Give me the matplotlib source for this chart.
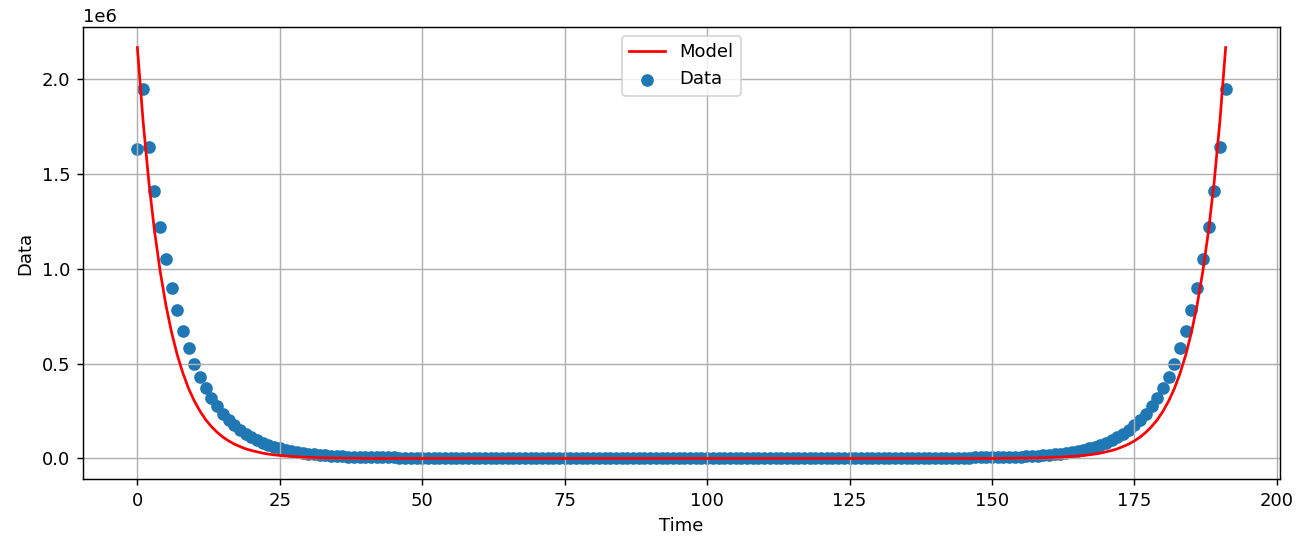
import numpy as np
import matplotlib.pyplot as plt

time = np.arange(192)

# observed values (units of 1e6), left edge x=0..45
data_left = [1.63, 1.95, 1.64, 1.41, 1.22, 1.05, 0.90, 0.78, 0.67, 0.58,
             0.50, 0.43, 0.37, 0.32, 0.275, 0.237, 0.204, 0.176, 0.152, 0.131,
             0.113, 0.097, 0.084, 0.072, 0.062, 0.054, 0.046, 0.040, 0.034, 0.030,
             0.026, 0.022, 0.019, 0.016, 0.014, 0.012, 0.011, 0.010, 0.009, 0.009,
             0.008, 0.008, 0.007, 0.007, 0.006, 0.006]
# flat stretch x=46..146
data_mid = [0.0] * 101
# right edge x=147..191
data_right = [0.006, 0.006, 0.007, 0.007, 0.008, 0.008, 0.009, 0.009, 0.010, 0.011,
              0.012, 0.014, 0.016, 0.019, 0.022, 0.026, 0.030, 0.034, 0.040, 0.046,
              0.054, 0.062, 0.072, 0.084, 0.097, 0.113, 0.131, 0.152, 0.176, 0.204,
              0.237, 0.275, 0.32, 0.37, 0.43, 0.50, 0.58, 0.67, 0.78, 0.90,
              1.05, 1.22, 1.41, 1.64, 1.95]
data = np.array(data_left + data_mid + data_right) * 1e6

# fitted model (units of 1e6)
model_left = [2.166, 1.780, 1.462, 1.201, 0.987, 0.810, 0.665, 0.546, 0.449, 0.368,
              0.303, 0.249, 0.204, 0.168, 0.138, 0.113, 0.093, 0.076, 0.063, 0.051,
              0.042, 0.035, 0.028, 0.023, 0.019, 0.016, 0.013, 0.011, 0.009, 0.007,
              0.006, 0.005, 0.004, 0.003, 0.003, 0.002, 0.002, 0.001, 0.001, 0.001]
model_mid = [0.0] * 112
model_right = model_left[::-1]
model = np.array(model_left + model_mid + model_right) * 1e6

dpi = 130
fig = plt.figure(figsize=(1296 / dpi, 539 / dpi), dpi=dpi)
plt.subplots_adjust(left=0.064, right=0.9877, bottom=0.1113, top=0.9499)
plt.plot(time, model, color='red', label='Model')
plt.scatter(time, data, label='Data')
plt.xlabel("Time")
plt.ylabel("Data")
plt.grid(True)
plt.legend(loc='upper center')
plt.savefig("out.png")
